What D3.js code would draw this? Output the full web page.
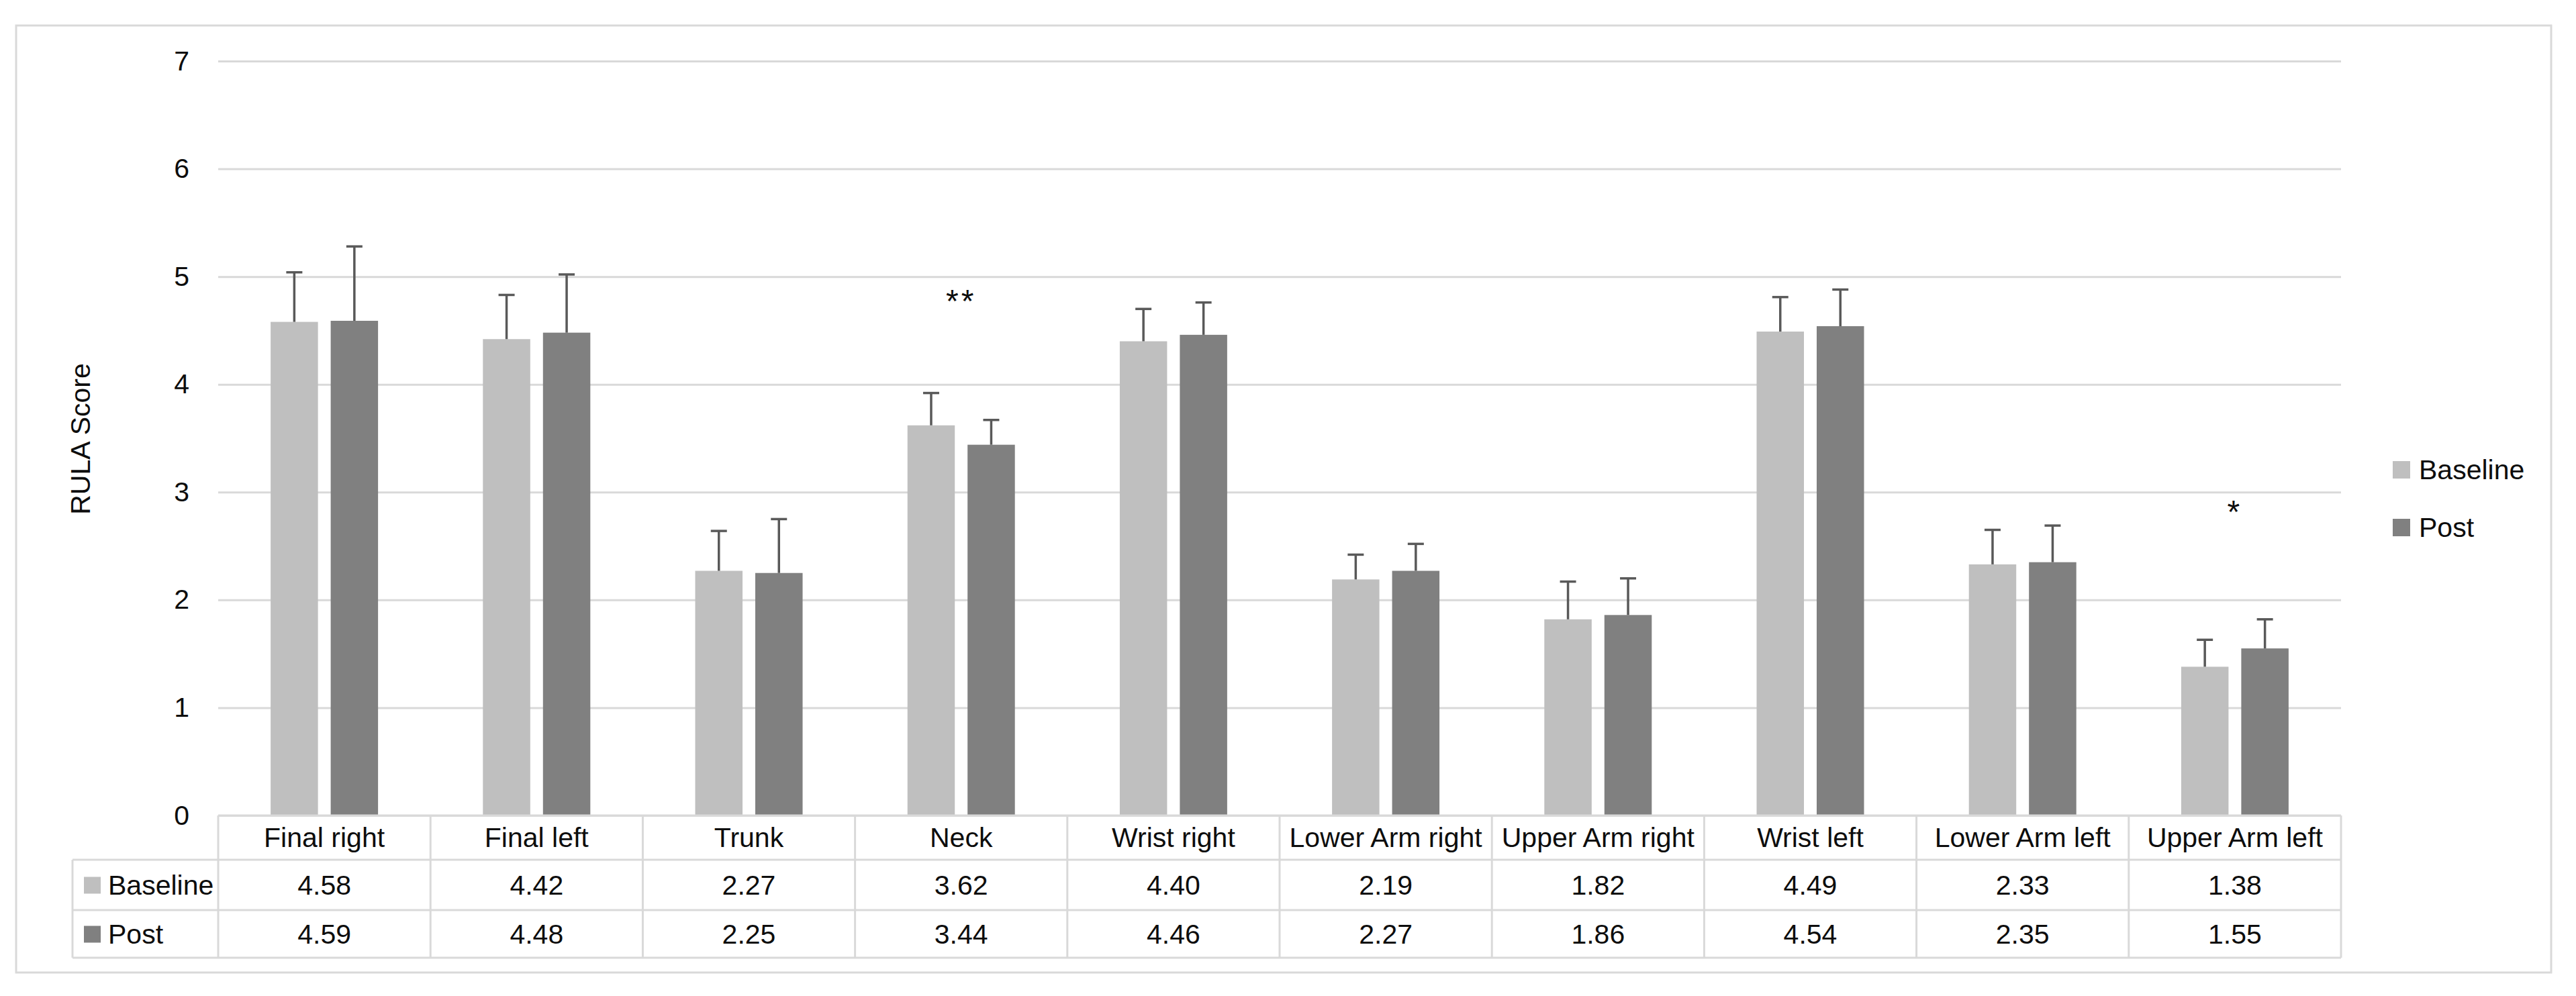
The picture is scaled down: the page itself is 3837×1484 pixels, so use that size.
<!DOCTYPE html>
<html>
<head>
<meta charset="utf-8">
<script src="https://cdn.jsdelivr.net/npm/d3@7"></script>
<style>
  html, body { margin: 0; padding: 0; background: #ffffff; }
  svg { display: block; }
  text { font-family: "Liberation Sans", Arial, sans-serif; fill: #0d0d0d; }
</style>
</head>
<body>
<svg id="chart" width="3837" height="1484"></svg>
<script>
// ---------- data ----------
const categories = ["Final right", "Final left", "Trunk", "Neck", "Wrist right",
  "Lower Arm right", "Upper Arm right", "Wrist left", "Lower Arm left", "Upper Arm left"];
const seriesNames = ["Baseline", "Post"];
const baselineValues = [4.58, 4.42, 2.27, 3.62, 4.40, 2.19, 1.82, 4.49, 2.33, 1.38];
const postValues     = [4.59, 4.48, 2.25, 3.44, 4.46, 2.27, 1.86, 4.54, 2.35, 1.55];
const baselineSD     = [0.46, 0.41, 0.37, 0.30, 0.30, 0.23, 0.35, 0.32, 0.32, 0.25];
const postSD         = [0.69, 0.54, 0.50, 0.23, 0.30, 0.25, 0.34, 0.34, 0.34, 0.27];
const yTicks = [0, 1, 2, 3, 4, 5, 6, 7];
const annotationCategories = ["Neck", "Upper Arm left"];
const annotationLabels = ["**", "*"];
const annotationValues = [4.83, 2.88];
const yTitle = "RULA Score";

// ---------- layout ----------
const W = 3837, H = 1484;
const plotLeft = 325, plotRight = 3487, yZero = 1215, yTop = 91;
const rowHeaderLeft = 108;
const rowBottoms = [1281, 1356, 1427];
const colors = { Baseline: "#bfbfbf", Post: "#808080" };
const gridColor = "#d9d9d9";
const fontSize = 41;

const svg = d3.select("#chart");
svg.append("rect").attr("x", 0).attr("y", 0).attr("width", W).attr("height", H).attr("fill", "#fff");
// outer frame
svg.append("rect").attr("x", 24).attr("y", 38).attr("width", 3776).attr("height", 1411)
  .attr("fill", "none").attr("stroke", gridColor).attr("stroke-width", 3);

const x0 = d3.scaleBand().domain(categories).range([plotLeft, plotRight]).paddingInner(0).paddingOuter(0);
const groupW = 160;
const x1 = d3.scaleBand().domain(seriesNames).range([0, groupW]).paddingInner(0.212).paddingOuter(0);
const y = d3.scaleLinear().domain([0, 7]).range([yZero, yTop]);

// gridlines + y axis labels via axis
const yAxis = d3.axisLeft(y).tickValues(yTicks).tickSize(-(plotRight - plotLeft)).tickPadding(43).tickFormat(d3.format("d"));
const gy = svg.append("g").attr("transform", `translate(${plotLeft},0)`).call(yAxis);
gy.select(".domain").remove();
gy.selectAll(".tick line").attr("stroke", gridColor).attr("stroke-width", 3);
gy.selectAll(".tick text").attr("font-size", fontSize).attr("fill", "#0d0d0d")
  .style("font-family", '"Liberation Sans", Arial, sans-serif');

// y title
svg.append("text").attr("transform", `translate(120,${(yZero + yTop) / 2 + 1}) rotate(-90)`)
  .attr("text-anchor", "middle").attr("dominant-baseline", "central")
  .attr("font-size", fontSize).text(yTitle);

// bars
const data = categories.map((c, i) => ({
  cat: c,
  vals: [
    { s: "Baseline", v: baselineValues[i], sd: baselineSD[i] },
    { s: "Post", v: postValues[i], sd: postSD[i] }
  ]
}));
const off = (x0.bandwidth() - groupW) / 2;
const groups = svg.append("g").selectAll("g").data(data).join("g")
  .attr("transform", d => `translate(${x0(d.cat) + off},0)`);
groups.selectAll("rect").data(d => d.vals).join("rect")
  .attr("x", d => x1(d.s)).attr("width", x1.bandwidth())
  .attr("y", d => y(d.v)).attr("height", d => y(0) - y(d.v))
  .attr("fill", d => colors[d.s]);
// error bars (upper only)
const capW = 24;
groups.selectAll("line.err").data(d => d.vals).join("line").attr("class", "err")
  .attr("x1", d => x1(d.s) + x1.bandwidth() / 2).attr("x2", d => x1(d.s) + x1.bandwidth() / 2)
  .attr("y1", d => y(d.v)).attr("y2", d => y(d.v + d.sd))
  .attr("stroke", "#595959").attr("stroke-width", 3.5);
groups.selectAll("line.cap").data(d => d.vals).join("line").attr("class", "cap")
  .attr("x1", d => x1(d.s) + x1.bandwidth() / 2 - capW / 2).attr("x2", d => x1(d.s) + x1.bandwidth() / 2 + capW / 2)
  .attr("y1", d => y(d.v + d.sd)).attr("y2", d => y(d.v + d.sd))
  .attr("stroke", "#595959").attr("stroke-width", 3.5);

// annotations
annotationCategories.forEach((c, i) => {
  svg.append("text").attr("x", x0(c) + x0.bandwidth() / 2).attr("y", y(annotationValues[i]) + 26)
    .attr("text-anchor", "middle").attr("font-size", 48).attr("letter-spacing", 4)
    .text(annotationLabels[i]);
});

// data table
const tbl = svg.append("g");
const lineAttr = sel => sel.attr("stroke", gridColor).attr("stroke-width", 3);
// top (axis) line
tbl.append("line").attr("x1", plotLeft).attr("x2", plotRight).attr("y1", yZero).attr("y2", yZero).call(lineAttr);
rowBottoms.forEach(yb => {
  tbl.append("line").attr("x1", rowHeaderLeft).attr("x2", plotRight).attr("y1", yb).attr("y2", yb).call(lineAttr);
});
// left border of row header
tbl.append("line").attr("x1", rowHeaderLeft).attr("x2", rowHeaderLeft).attr("y1", rowBottoms[0]).attr("y2", rowBottoms[2]).call(lineAttr);
// column dividers
const dividers = categories.map(c => x0(c)).concat([plotRight]);
dividers.forEach(xd => {
  tbl.append("line").attr("x1", xd).attr("x2", xd).attr("y1", yZero).attr("y2", rowBottoms[2]).call(lineAttr);
});
// header labels
categories.forEach(c => {
  tbl.append("text").attr("x", x0(c) + x0.bandwidth() / 2).attr("y", (yZero + rowBottoms[0]) / 2)
    .attr("text-anchor", "middle").attr("dominant-baseline", "central").attr("font-size", fontSize).text(c);
});
// value rows
const rowSeries = [baselineValues, postValues];
rowSeries.forEach((vals, r) => {
  const cy = (rowBottoms[r] + rowBottoms[r + 1]) / 2;
  categories.forEach((c, i) => {
    tbl.append("text").attr("x", x0(c) + x0.bandwidth() / 2).attr("y", cy)
      .attr("text-anchor", "middle").attr("dominant-baseline", "central").attr("font-size", fontSize)
      .text(vals[i].toFixed(2));
  });
  tbl.append("rect").attr("x", 125).attr("y", cy - 12).attr("width", 25).attr("height", 25)
    .attr("fill", colors[seriesNames[r]]);
  tbl.append("text").attr("x", 161).attr("y", cy).attr("dominant-baseline", "central")
    .attr("font-size", fontSize).text(seriesNames[r]);
});

// legend
const legendY = [700, 786];
seriesNames.forEach((s, i) => {
  svg.append("rect").attr("x", 3564).attr("y", legendY[i] - 13).attr("width", 26).attr("height", 26)
    .attr("fill", colors[s]);
  svg.append("text").attr("x", 3603).attr("y", legendY[i]).attr("dominant-baseline", "central")
    .attr("font-size", fontSize).text(s);
});
</script>
</body>
</html>
